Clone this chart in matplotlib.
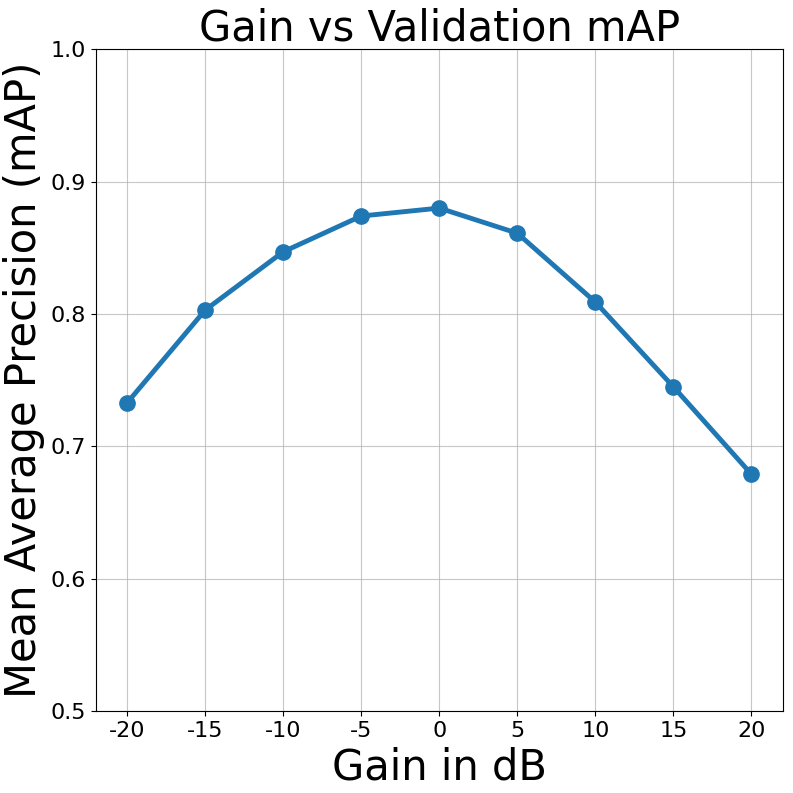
import matplotlib
matplotlib.use('Agg')
import matplotlib.pyplot as plt

gains = [-20, -15, -10, -5, 0, 5, 10, 15, 20]
gain_labels = ['-20', '-15', '-10', '-5', '0', '5', '10', '15', '20']
mAP = [0.733, 0.803, 0.847, 0.874, 0.880, 0.861, 0.809, 0.745, 0.679]

fig = plt.figure(figsize=(7.93, 7.93), dpi=100)
ax = fig.add_axes([0.121, 0.103, 0.866, 0.835])

ax.plot(gains, mAP, color='#1f77b4', linewidth=3.5, marker='o', markersize=11)
ax.set_ylim(0.5, 1.0)
ax.set_xticks(gains)
ax.set_xticklabels(gain_labels)
ax.set_yticks([0.5, 0.6, 0.7, 0.8, 0.9, 1.0])
ax.tick_params(axis='both', labelsize=16)
ax.grid(True, alpha=0.7)

ax.set_title('Gain vs Validation mAP', fontsize=30)
ax.set_xlabel('Gain in dB', fontsize=30)
ax.set_ylabel('Mean Average Precision (mAP)', fontsize=30)

fig.savefig('out.png', dpi=100)
